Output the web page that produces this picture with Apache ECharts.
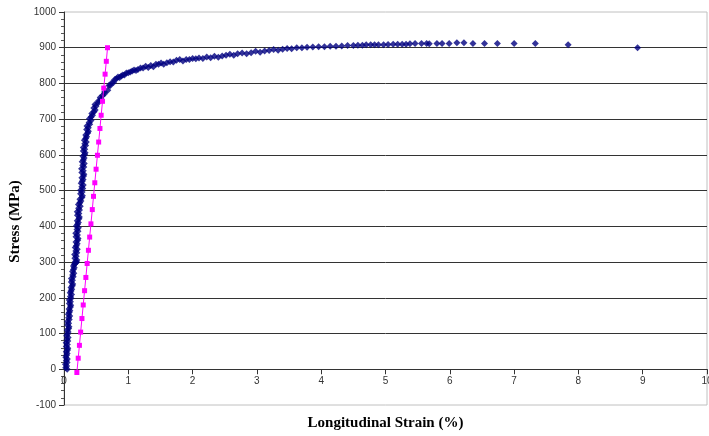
<!DOCTYPE html>
<html>
<head>
<meta charset="utf-8">
<script src="https://cdn.jsdelivr.net/npm/echarts@6/dist/echarts.min.js"></script>
<style>
html,body{margin:0;padding:0;background:#fff;}
#chart{width:709px;height:436px;}
</style>
</head>
<body>
<div id="chart"></div>
<script>
// Measured stress-strain curve (blue diamonds)
const blueStrain = [
0.050,0.026,0.041,0.022,0.048,0.035,0.052,0.028,0.040,0.049,0.035,0.055,0.059,0.035,0.052,0.033,0.059,0.047,0.064,0.041,
0.054,0.064,0.051,0.072,0.078,0.055,0.072,0.055,0.082,0.071,0.089,0.067,0.081,0.091,0.079,0.100,0.105,0.083,0.100,0.082,
0.110,0.099,0.118,0.096,0.110,0.121,0.109,0.130,0.136,0.114,0.131,0.115,0.143,0.134,0.153,0.132,0.147,0.159,0.147,
0.160,0.172,0.185,0.195,0.178,
0.200,0.169,0.190,0.165,0.199,0.184,0.206,0.175,0.192,0.205,0.186,0.213,0.219,0.187,0.209,0.183,0.218,0.202,0.224,0.192,
0.211,0.224,0.206,0.233,0.239,0.209,0.231,0.206,0.241,0.227,0.253,0.225,0.247,0.263,0.248,0.279,0.287,0.258,0.282,0.258,
0.292,0.277,0.299,0.267,0.284,0.297,0.278,0.304,0.309,0.277,0.299,0.273,0.308,0.292,0.315,0.283,0.301,0.313,0.295,0.322,
0.329,0.300,0.323,0.300,0.336,0.323,0.347,0.317,0.337,0.352,0.338,0.369,0.379,0.352,0.378,0.358,0.400,0.391,0.420,0.396,
0.422,0.443,0.433,0.468,0.485,0.464,0.497,0.482,0.533,0.536,0.577,0.564,0.600,0.631,0.631,0.681,
0.70,0.72,0.745,0.77,0.79,0.815,0.84,0.865,0.89,0.915,0.94,0.97,1.00,1.03,1.06,1.09,1.12,1.15,1.19,1.23,
1.27,1.31,1.35,1.39,1.43,1.47,1.51,1.55,1.60,1.65,1.70,1.75,1.80,1.85,1.90,1.95,2.00,2.05,2.10,2.16,
2.22,2.28,2.34,2.40,2.46,2.52,2.58,2.64,2.70,2.77,2.84,2.91,2.98,3.05,3.12,3.19,3.26,3.33,3.40,3.47,
3.54,3.62,3.70,3.78,3.87,3.96,4.05,4.14,4.23,4.32,4.41,4.50,4.57,4.64,4.70,4.77,4.83,4.89,4.97,5.04,
5.12,5.19,5.26,5.32,5.38,5.46,5.56,5.64,5.68,5.80,5.88,5.99,6.11,6.22,6.36,6.54,6.74,7.00,7.33,7.84,8.92
];
const blueStress = [
0,4,9,14,19,24,29,34,39,44,49,54,59,64,69,74,79,84,89,94,
99,104,109,114,119,124,129,134,139,144,149,154,159,164,169,174,179,184,189,194,
199,204,209,214,219,224,229,234,239,244,249,254,259,264,269,274,279,284,289,
294,296,298,300,302,
306,311,316,321,326,331,336,341,346,351,356,361,366,371,376,381,386,391,396,401,
406,411,416,421,426,431,436,441,446,451,456,461,466,471,476,481,486,491,496,501,
506,511,516,521,526,531,536,541,546,551,556,561,566,571,576,581,586,591,596,601,
606,611,616,621,626,631,636,641,646,651,656,661,666,671,676,681,686,691,696,701,
706,711,716,721,726,731,736,741,746,751,756,761,766,771,776,781,
794,794,802,803,811,813,818,817,821,824,824,829,830,832,835,838,836,839,843,843,
848,845,850,847,854,854,857,854,858,861,860,865,867,863,867,867,870,869,871,870,
874,872,876,873,877,879,882,879,883,885,883,886,890,887,891,892,895,893,896,898,
897,900,900,901,902,903,903,904,904,905,906,906,907,907,908,908,908,908,908,909,
910,910,910,910,911,912,912,912,911,912,912,912,914,914,912,912,912,912,912,908,900
];
// 0.2% offset line (magenta squares)
const pinkStrain = [0.200,0.221,0.240,0.259,0.279,0.299,0.320,0.340,0.360,0.380,0.399,0.419,0.440,0.459,0.479,0.499,0.520,0.539,0.559,0.578,0.599,0.618,0.639,0.658,0.677];
const pinkStress = [-9,31,67,104,142,180,220,257,296,333,370,407,447,484,522,560,599,636,674,711,750,787,826,862,900];

const xMin = 0, xMax = 10, xStep = 1;
const yMin = -100, yMax = 1000, yStep = 100;
const xTitle = 'Longitudinal Strain (%)';
const yTitle = 'Stress (MPa)';

const blueData = blueStrain.map((v, i) => [v, blueStress[i]]);
const pinkData = pinkStrain.map((v, i) => [v, pinkStress[i]]);

const W = 709, H = 436;
const gridBox = {left: 64, top: 12, right: 2, bottom: 31};
const plotH = H - gridBox.top - gridBox.bottom;
// x axis crosses the y axis at value 0
const xAxisOffset = -plotH * (0 - yMin) / (yMax - yMin);

const chart = echarts.init(document.getElementById('chart'), null, {renderer: 'canvas'});
const labelStyle = {color: '#333', fontFamily: 'Liberation Sans, Arial, sans-serif', fontSize: 10, formatter: v => String(v)};
const titleStyle = {color: '#000', fontFamily: 'Liberation Serif, Times New Roman, serif', fontSize: 15, fontWeight: 'bold'};
chart.setOption({
  animation: false,
  backgroundColor: '#fff',
  grid: Object.assign({show: true, borderColor: '#c0c0c0', borderWidth: 1,
         backgroundColor: 'transparent', containLabel: false, outerBoundsMode: 'none'}, gridBox),
  xAxis: {
    type: 'value', min: xMin, max: xMax, interval: xStep,
    position: 'bottom', offset: xAxisOffset,
    name: xTitle, nameLocation: 'middle', nameGap: 46, nameTextStyle: titleStyle,
    axisLine: {onZero: false, lineStyle: {color: '#333', width: 1}},
    axisTick: {show: true, inside: false, length: 5, lineStyle: {color: '#333'}},
    axisLabel: Object.assign({margin: 7}, labelStyle),
    splitLine: {show: false}
  },
  yAxis: {
    type: 'value', min: yMin, max: yMax, interval: yStep,
    name: yTitle, nameLocation: 'middle', nameGap: 38, nameRotate: 90,
    nameTextStyle: Object.assign({padding: [0, 26, 0, 0]}, titleStyle),
    axisLine: {show: true, onZero: false, lineStyle: {color: '#333', width: 1}},
    axisTick: {show: true, inside: false, length: 5, lineStyle: {color: '#333'}},
    minorTick: {show: true, splitNumber: 5, length: 3, lineStyle: {color: '#555'}},
    axisLabel: Object.assign({margin: 8}, labelStyle),
    splitLine: {show: true, showMinLine: false, showMaxLine: false, lineStyle: {color: '#333', width: 1}}
  },
  series: [
    {
      type: 'scatter', data: blueData, symbol: 'diamond', symbolSize: 7,
      itemStyle: {color: '#000080'}, z: 2
    },
    {
      type: 'line', data: pinkData, symbol: 'rect', symbolSize: 5, showAllSymbol: true,
      lineStyle: {color: '#ff00ff', width: 1}, itemStyle: {color: '#ff00ff'}, z: 3
    }
  ]
});
</script>
</body>
</html>
